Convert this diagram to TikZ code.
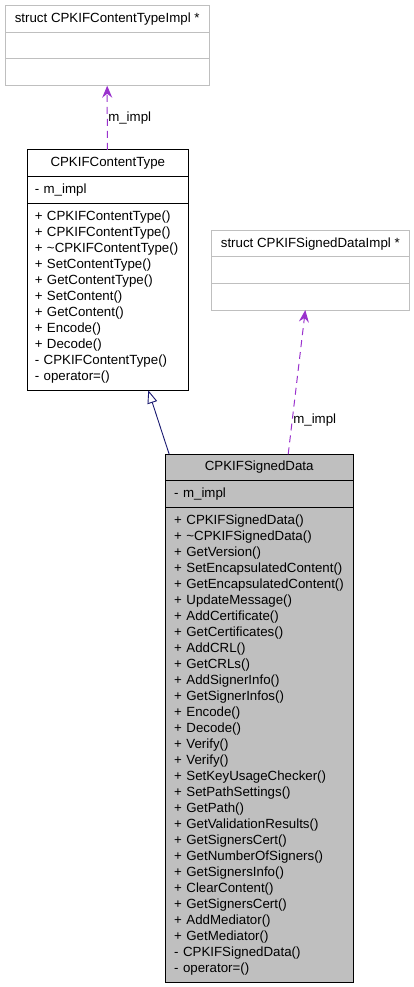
\documentclass[tikz,border=0pt]{standalone}
\usepackage{fontspec}
\setmainfont{Liberation Sans}
\usetikzlibrary{shapes, arrows.meta, positioning}
\definecolor{usepurple}{RGB}{154,50,205}
\definecolor{inhnavy}{RGB}{25,25,112}
\definecolor{boxgray}{RGB}{191,191,191}
\tikzstyle{classname} = [rectangle, draw=black, line width=1pt, outer sep=0pt, inner sep=0pt, anchor=north, minimum height=26.5pt, font=\fontsize{13.3pt}{16pt}\selectfont, text centered]
\tikzstyle{classpart} = [rectangle, draw=black, line width=1pt, outer sep=0pt, inner ysep=0pt, inner xsep=9pt, align=left, font=\fontsize{13.3pt}{16pt}\selectfont]
\tikzstyle{structname} = [classname, draw=boxgray]
\tikzstyle{structpart} = [classpart, draw=boxgray, minimum height=26.7pt]
\tikzstyle{usage} = [line width=1pt, usepurple, dash pattern=on 7pt off 5pt, -{Stealth[length=12pt, width=10pt, inset=4pt, sep=0pt]}]
\tikzstyle{inherit} = [line width=0.9pt, inhnavy, -{Triangle[open, length=13pt, width=10pt]}]

\begin{document}
\begin{tikzpicture}[x=1pt, y=-1pt]
    \useasboundingbox (0,0) rectangle (413,987);

    % struct CPKIFContentTypeImpl
    \node (ctimplname) [structname, minimum width=204pt, minimum height=26.3pt] at (107.2,6) {struct CPKIFContentTypeImpl *};
    \node (ctimplattr) [structpart, minimum width=204pt, text width=186pt, below=0pt of ctimplname] {};
    \node (ctimplops) [structpart, minimum width=204pt, text width=186pt, below=0pt of ctimplattr] {};

    % CPKIFContentType
    \node (ctname) [classname, minimum width=161pt] at (107.8,150) {CPKIFContentType};
    \node (ctattr) [classpart, inner xsep=7.5pt, minimum width=161pt, text width=146pt, minimum height=27pt, below=0pt of ctname] {- m\_impl};
    \node (ctops) [classpart, inner xsep=7.5pt, minimum width=161pt, text width=146pt, minimum height=186.8pt, below=0pt of ctattr] {+ CPKIFContentType()\\+ CPKIFContentType()\\+ \textasciitilde CPKIFContentType()\\+ SetContentType()\\+ GetContentType()\\+ SetContent()\\+ GetContent()\\+ Encode()\\+ Decode()\\- CPKIFContentType()\\- operator=()};

    % struct CPKIFSignedDataImpl
    \node (sdimplname) [structname, minimum width=198pt, minimum height=26pt] at (310.3,230.7) {struct CPKIFSignedDataImpl *};
    \node (sdimplattr) [structpart, minimum width=198pt, text width=180pt, below=0pt of sdimplname] {};
    \node (sdimplops) [structpart, minimum width=198pt, text width=180pt, below=0pt of sdimplattr] {};

    % CPKIFSignedData
    \node (sdname) [classname, fill=boxgray, minimum width=188pt] at (259.2,454.3) {CPKIFSignedData};
    \node (sdattr) [classpart, fill=boxgray, minimum width=188pt, text width=170pt, minimum height=27pt, below=0pt of sdname] {- m\_impl};
    \node (sdops) [classpart, fill=boxgray, minimum width=188pt, text width=170pt, minimum height=474.5pt, below=0pt of sdattr] {+ CPKIFSignedData()\\+ \textasciitilde CPKIFSignedData()\\+ GetVersion()\\+ SetEncapsulatedContent()\\+ GetEncapsulatedContent()\\+ UpdateMessage()\\+ AddCertificate()\\+ GetCertificates()\\+ AddCRL()\\+ GetCRLs()\\+ AddSignerInfo()\\+ GetSignerInfos()\\+ Encode()\\+ Decode()\\+ Verify()\\+ Verify()\\+ SetKeyUsageChecker()\\+ SetPathSettings()\\+ GetPath()\\+ GetValidationResults()\\+ GetSignersCert()\\+ GetNumberOfSigners()\\+ GetSignersInfo()\\+ ClearContent()\\+ GetSignersCert()\\+ AddMediator()\\+ GetMediator()\\- CPKIFSignedData()\\- operator=()};

    % relations
    \draw [usage] ([xshift=-0.5pt]ctname.north) -- (ctimplops.south) node [pos=0.5, anchor=west, inner sep=0.5pt, text=black, font=\fontsize{13.3pt}{16pt}\selectfont] {m\_impl};
    \draw [usage] ([xshift=29pt]sdname.north) -- ([xshift=-5pt]sdimplops.south) node [pos=0.24, anchor=west, inner sep=0.5pt, text=black, font=\fontsize{13.3pt}{16pt}\selectfont] {m\_impl};
    \draw [inherit] ([xshift=-90pt]sdname.north) -- ([xshift=40.5pt]ctops.south);

\end{tikzpicture}
\end{document}
